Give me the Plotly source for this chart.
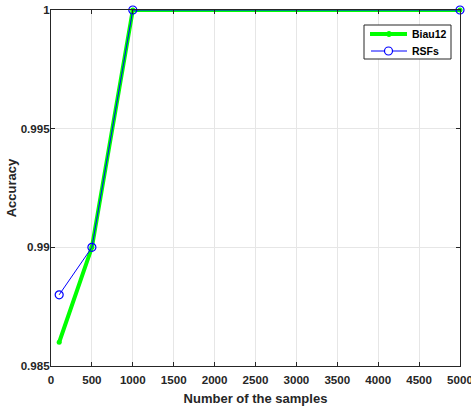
import plotly.graph_objects as go

samples = [100, 500, 1000, 5000]
biau12 = [0.986, 0.990, 1.000, 1.000]
rsfs = [0.988, 0.990, 1.000, 1.000]
x_ticks = [0, 500, 1000, 1500, 2000, 2500, 3000, 3500, 4000, 4500, 5000]
y_ticks = [0.985, 0.99, 0.995, 1]
y_tick_labels = ["0.985", "0.99", "0.995", "1"]
series_names = ["Biau12", "RSFs"]

W, H = 471, 407
ML, MR, MT, MB = 51, 11, 10, 41
PW, PH = W - ML - MR, H - MT - MB
FONT = "Arial"


def px_x(p):
    return (p - ML) / PW


def px_y(p):
    return (H - MB - p) / PH


GREEN = "#00ff00"
BLUE = "#0000ff"
DARK = "#262626"

fig = go.Figure()
fig.add_trace(go.Scatter(
    x=samples, y=biau12, name=series_names[0], mode="lines+markers",
    line=dict(color=GREEN, width=4),
    marker=dict(symbol="circle", size=5, color=GREEN),
    cliponaxis=False, showlegend=False,
))
fig.add_trace(go.Scatter(
    x=samples, y=rsfs, name=series_names[1], mode="lines+markers",
    line=dict(color=BLUE, width=1),
    marker=dict(symbol="circle-open", size=8, color=BLUE, line=dict(width=1.2)),
    cliponaxis=False, showlegend=False,
))

tickfont = dict(family=FONT, size=11.6, color=DARK, weight="bold")
titlefont = dict(family=FONT, size=13, color=DARK, weight="bold")
axis_common = dict(
    showline=True, linecolor=DARK, linewidth=1, mirror="ticks",
    ticks="inside", ticklen=4, tickcolor=DARK,
    showgrid=True, gridcolor="#e6e6e6", gridwidth=1, zeroline=False,
    tickfont=tickfont, automargin=False, ticklabeloverflow="allow",
)

# MATLAB-style legend box (decoration)
shapes = [
    dict(type="rect", xref="paper", yref="paper",
         x0=px_x(364), x1=px_x(451), y0=px_y(59), y1=px_y(25),
         line=dict(color=DARK, width=1), fillcolor="white", layer="above"),
    dict(type="line", xref="paper", yref="paper",
         x0=px_x(370), x1=px_x(407), y0=px_y(34), y1=px_y(34),
         line=dict(color=GREEN, width=4), layer="above"),
    dict(type="circle", xref="paper", yref="paper",
         x0=px_x(386.5), x1=px_x(391.5), y0=px_y(36.5), y1=px_y(31.5),
         line=dict(color=GREEN, width=1), fillcolor=GREEN, layer="above"),
    dict(type="line", xref="paper", yref="paper",
         x0=px_x(371), x1=px_x(407), y0=px_y(51), y1=px_y(51),
         line=dict(color=BLUE, width=1), layer="above"),
    dict(type="circle", xref="paper", yref="paper",
         x0=px_x(384.5), x1=px_x(392.5), y0=px_y(55), y1=px_y(47),
         line=dict(color=BLUE, width=1.2), fillcolor="white", layer="above"),
]
annotations = [
    dict(text=series_names[0], xref="paper", yref="paper", x=px_x(410), y=px_y(34),
         xanchor="left", yanchor="middle", showarrow=False,
         font=dict(family=FONT, size=10.5, color="#000000", weight="bold")),
    dict(text=series_names[1], xref="paper", yref="paper", x=px_x(410), y=px_y(51),
         xanchor="left", yanchor="middle", showarrow=False,
         font=dict(family=FONT, size=10.5, color="#000000", weight="bold")),
]

fig.update_layout(
    width=W, height=H,
    margin=dict(l=ML, r=MR, t=MT, b=MB),
    paper_bgcolor="white", plot_bgcolor="white",
    font=dict(family=FONT, color=DARK),
    xaxis=dict(range=[0, 5000], tickvals=x_ticks, ticklabelstandoff=3,
               title=dict(text="Number of the samples", standoff=8, font=titlefont),
               **axis_common),
    yaxis=dict(range=[0.985, 1], tickvals=y_ticks, ticktext=y_tick_labels,
               ticklabelstandoff=-2,
               title=dict(text="Accuracy", standoff=1, font=titlefont),
               **axis_common),
    shapes=shapes,
    annotations=annotations,
    showlegend=False,
)

fig.write_html("out.html", config={"displayModeBar": False},
               post_script="document.body.style.margin='0';document.body.style.overflow='hidden';")
